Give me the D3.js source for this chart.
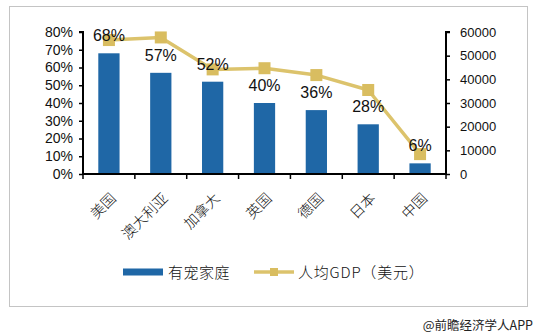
<!DOCTYPE html>
<html>
<head>
<meta charset="utf-8">
<script src="https://cdn.jsdelivr.net/npm/d3@7"></script>
<style>
  html, body { margin: 0; padding: 0; background: #fff; }
  svg { display: block; }
</style>
</head>
<body>
<svg id="chart" width="540" height="336"></svg>
<script>
// Pet-owning household share vs. GDP per capita, by country
const countries = ["美国", "澳大利亚", "加拿大", "英国", "德国", "日本", "中国"];
const petShare = [68, 57, 52, 40, 36, 28, 6];              // %
const gdpPerCapita = [56600, 57700, 44200, 44700, 41800, 35500, 8400]; // USD
const leftTicks = [0, 10, 20, 30, 40, 50, 60, 70, 80];
const rightTicks = [0, 10000, 20000, 30000, 40000, 50000, 60000];

const BLUE = "#1f67a6";
const GOLD = "#dcc36c";
const NUM_FONT = "'Liberation Sans', Arial, sans-serif";
const CJK_FONT = "'Noto Sans CJK SC', sans-serif";

const svg = d3.select("#chart");

// outer frame
svg.append("rect")
  .attr("x", 9.5).attr("y", 6.5).attr("width", 518).attr("height", 300)
  .attr("fill", "#fff").attr("stroke", "#c4c4c4").attr("stroke-width", 1);

const plot = { left: 83, right: 446, top: 32, bottom: 174 };

const x = d3.scaleBand().domain(countries).range([plot.left, plot.right]).padding(0);
const yL = d3.scaleLinear().domain([0, 80]).range([plot.bottom, plot.top]);
const yR = d3.scaleLinear().domain([0, 60000]).range([plot.bottom, plot.top]);

const barW = x.bandwidth() * 0.41;
const cx = d => x(d) + x.bandwidth() / 2;

// bars
svg.append("g").selectAll("rect")
  .data(countries)
  .join("rect")
  .attr("x", d => cx(d) - barW / 2)
  .attr("y", (d, i) => yL(petShare[i]))
  .attr("width", barW)
  .attr("height", (d, i) => plot.bottom - yL(petShare[i]))
  .attr("fill", BLUE);

// GDP line + square markers
const line = d3.line().x((d, i) => cx(countries[i])).y(d => yR(d));
svg.append("path")
  .datum(gdpPerCapita)
  .attr("d", line)
  .attr("fill", "none")
  .attr("stroke", GOLD)
  .attr("stroke-width", 3.5)
  .attr("stroke-linejoin", "round");

const mk = 12;
svg.append("g").selectAll("rect")
  .data(gdpPerCapita)
  .join("rect")
  .attr("x", (d, i) => cx(countries[i]) - mk / 2)
  .attr("y", d => yR(d) - mk / 2)
  .attr("width", mk).attr("height", mk)
  .attr("fill", "#d9bd60");

// value labels for the bars
svg.append("g").selectAll("text")
  .data(petShare)
  .join("text")
  .attr("x", (d, i) => cx(countries[i]))
  .attr("y", d => yL(d) - 12)
  .attr("text-anchor", "middle")
  .attr("font-family", NUM_FONT)
  .attr("font-size", 16)
  .attr("fill", "#111")
  .text(d => d + "%");

// left axis
const axL = svg.append("g")
  .attr("transform", `translate(${plot.left},0)`)
  .call(d3.axisLeft(yL).tickValues(leftTicks).tickFormat(d => d + "%").tickSize(4).tickPadding(6));
axL.select(".domain").attr("stroke", "#000").attr("stroke-width", 2).attr("d", `M-4,${plot.top}H0V${plot.bottom}`);
axL.selectAll(".tick line").attr("stroke", "#000").attr("stroke-width", 1.5);
axL.selectAll(".tick text").attr("font-family", NUM_FONT).attr("font-size", 14).attr("fill", "#111");

// right axis
const axR = svg.append("g")
  .attr("transform", `translate(${plot.right},0)`)
  .call(d3.axisRight(yR).tickValues(rightTicks).tickFormat(d3.format("d")).tickSize(4).tickPadding(10));
axR.select(".domain").attr("stroke", "#000").attr("stroke-width", 2).attr("d", `M4,${plot.top}H0V${plot.bottom}`);
axR.selectAll(".tick line").attr("stroke", "#000").attr("stroke-width", 1.5);
axR.selectAll(".tick text").attr("font-family", NUM_FONT).attr("font-size", 13).attr("fill", "#111");

// category axis: ticks at band boundaries
const axB = svg.append("g").attr("transform", `translate(0,${plot.bottom})`);
axB.append("line")
  .attr("x1", plot.left).attr("x2", plot.right)
  .attr("stroke", "#000").attr("stroke-width", 2);
const bounds = countries.map(d => x(d)).concat([plot.right]);
axB.selectAll("line.tk")
  .data(bounds)
  .join("line")
  .attr("class", "tk")
  .attr("x1", d => d).attr("x2", d => d)
  .attr("y1", 0).attr("y2", 5)
  .attr("stroke", "#000").attr("stroke-width", 1.5);

axB.selectAll("text")
  .data(countries)
  .join("text")
  .attr("transform", d => `translate(${cx(d) + 1},${18}) rotate(-45)`)
  .attr("text-anchor", "end")
  .attr("dy", "0.7em")
  .attr("font-family", CJK_FONT)
  .attr("font-size", 14.5)
  .attr("font-weight", 300)
  .attr("fill", "#111")
  .text(d => d);

// legend
const lg = svg.append("g");
lg.append("rect").attr("x", 123).attr("y", 268.5).attr("width", 40).attr("height", 7).attr("fill", BLUE);
lg.append("text").attr("x", 168).attr("y", 278)
  .attr("font-family", CJK_FONT).attr("font-size", 15).attr("font-weight", 300).attr("fill", "#111")
  .attr("letter-spacing", 0.5)
  .text("有宠家庭");
lg.append("line").attr("x1", 254).attr("x2", 294).attr("y1", 272).attr("y2", 272)
  .attr("stroke", GOLD).attr("stroke-width", 3.5);
lg.append("rect").attr("x", 270).attr("y", 268).attr("width", 8).attr("height", 8).attr("fill", "#d9bd60");
lg.append("text").attr("x", 298).attr("y", 278)
  .attr("font-family", CJK_FONT).attr("font-size", 15).attr("font-weight", 300).attr("fill", "#111")
  .attr("letter-spacing", 0.8)
  .text("人均GDP（美元）");

// source
svg.append("text").attr("x", 533).attr("y", 330)
  .attr("text-anchor", "end")
  .attr("font-family", CJK_FONT).attr("font-size", 12.5).attr("fill", "#222")
  .text("@前瞻经济学人APP");
</script>
</body>
</html>
